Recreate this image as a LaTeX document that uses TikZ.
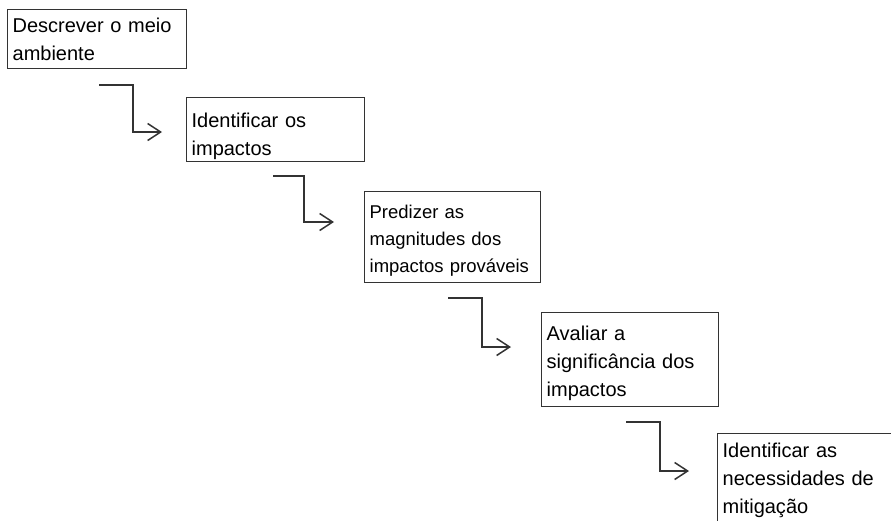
\documentclass[tikz,border=0pt]{standalone}
\usepackage{fontspec}
\setmainfont{Liberation Sans}
\usetikzlibrary{arrows.meta}
\tikzset{
  stepbox/.style={draw=black!80, line width=1.3pt, anchor=north west, align=left,
    inner xsep=5pt, inner ysep=0pt, text=black,
    font=\fontsize{20}{28}\selectfont},
  flow/.style={draw=black!80, line width=1.5pt,
    -{Straight Barb[length=13pt,width=17pt,line width=1.5pt]}}
}
\begin{document}
\begin{tikzpicture}[x=1pt,y=-1pt]
\useasboundingbox[fill=white] (0,0) rectangle (891,520);
\node[stepbox, text width=169pt, text height=23pt, text depth=36pt] (meio) at (7,9){Descrever o meio\\ambiente};
\node[stepbox, text width=168pt, text height=30pt, text depth=34pt] (ident) at (186,97){Identificar os\\impactos};
\node[stepbox, text width=166pt, text height=27pt, text depth=64pt, font=\fontsize{18.5}{27}\selectfont] (pred) at (364,191){Predizer as\\magnitudes dos\\impactos prováveis};
\node[stepbox, text width=167pt, text height=28pt, text depth=66pt] (aval) at (541,312){Avaliar a\\significância dos\\impactos};
\node[stepbox, text width=170pt, text height=24pt, text depth=80pt] (mitig) at (717,433){Identificar as\\necessidades de\\mitigação};
% connectors
\coordinate (s1) at (99,85);   \coordinate (e1) at (162,132);
\coordinate (s2) at (273,176); \coordinate (e2) at (334,222);
\coordinate (s3) at (448,298); \coordinate (e3) at (511,347);
\coordinate (s4) at (626,422); \coordinate (e4) at (689,471);
\draw[flow] (s1) -- ++(34,0) |- (e1);
\draw[flow] (s2) -- ++(31,0) |- (e2);
\draw[flow] (s3) -- ++(34,0) |- (e3);
\draw[flow] (s4) -- ++(34,0) |- (e4);
\end{tikzpicture}
\end{document}
